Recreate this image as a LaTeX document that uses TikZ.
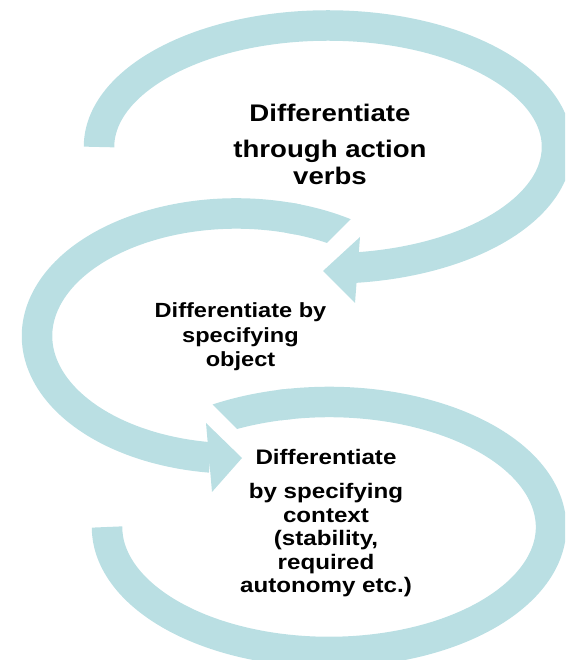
\documentclass[tikz,border=0pt]{standalone}
\usepackage{fontspec}
\setmainfont[FakeStretch=1.15]{Liberation Sans}
\definecolor{band}{RGB}{186,223,227}
\begin{document}
\begin{tikzpicture}[x=1pt,y=1pt,
  bandline/.style={draw=band, line width=30.5pt, line cap=butt},
  headfill/.style={fill=band, draw=none},
  lbl/.style={align=center, anchor=base, inner sep=0pt}]
\useasboundingbox (0,0) rectangle (565,660);
\clip (0,0) rectangle (565,660);
\coordinate (c1) at (328,513);
\coordinate (c2) at (236.3,324);
\coordinate (c3) at (329,133);
% arrow 1 (top)
\draw[bandline] (c1) ++(180:229 and 121.5) arc[start angle=180,end angle=-83.5,x radius=229,y radius=121.5];
\fill[headfill] (360,423) -- (323,389) -- (355,357) -- cycle;
% arrow 2 (middle)
\begin{scope}
  \clip (200,290) -- (420,510) -- (420,620) -- (200,620) -- cycle;
  \draw[bandline] (c2) ++(45:199.3 and 122.5) arc[start angle=45,end angle=75,x radius=199.3,y radius=122.5];
\end{scope}
\draw[bandline] (c2) ++(72:199.3 and 122.5) arc[start angle=72,end angle=262.5,x radius=199.3,y radius=122.5];
\fill[headfill] (206,237) -- (242,202) -- (212,168) -- cycle;
% arrow 3 (bottom)
\begin{scope}
  \clip (130,338) -- (330,138) -- (330,340) -- (130,340) -- cycle;
  \draw[bandline] (c3) ++(130:222 and 125) arc[start angle=130,end angle=100,x radius=222,y radius=125];
\end{scope}
\draw[bandline] (c3) ++(103:222 and 125) arc[start angle=103,end angle=-180,x radius=222,y radius=125];
% labels (base anchor = baseline of the last line)
\node[lbl, font=\bfseries\fontsize{24}{27}\selectfont] (t1) at (330,475)
  {Differentiate\\[9pt]through action\\verbs};
\node[lbl, font=\bfseries\fontsize{20.5}{24.5}\selectfont] (t2) at (240.5,293)
  {Differentiate by\\specifying\\object};
\node[lbl, font=\bfseries\fontsize{21}{23.5}\selectfont] (t3) at (326,67)
  {Differentiate\\[10.5pt]by specifying\\context\\(stability,\\required\\autonomy etc.)};
\end{tikzpicture}
\end{document}
